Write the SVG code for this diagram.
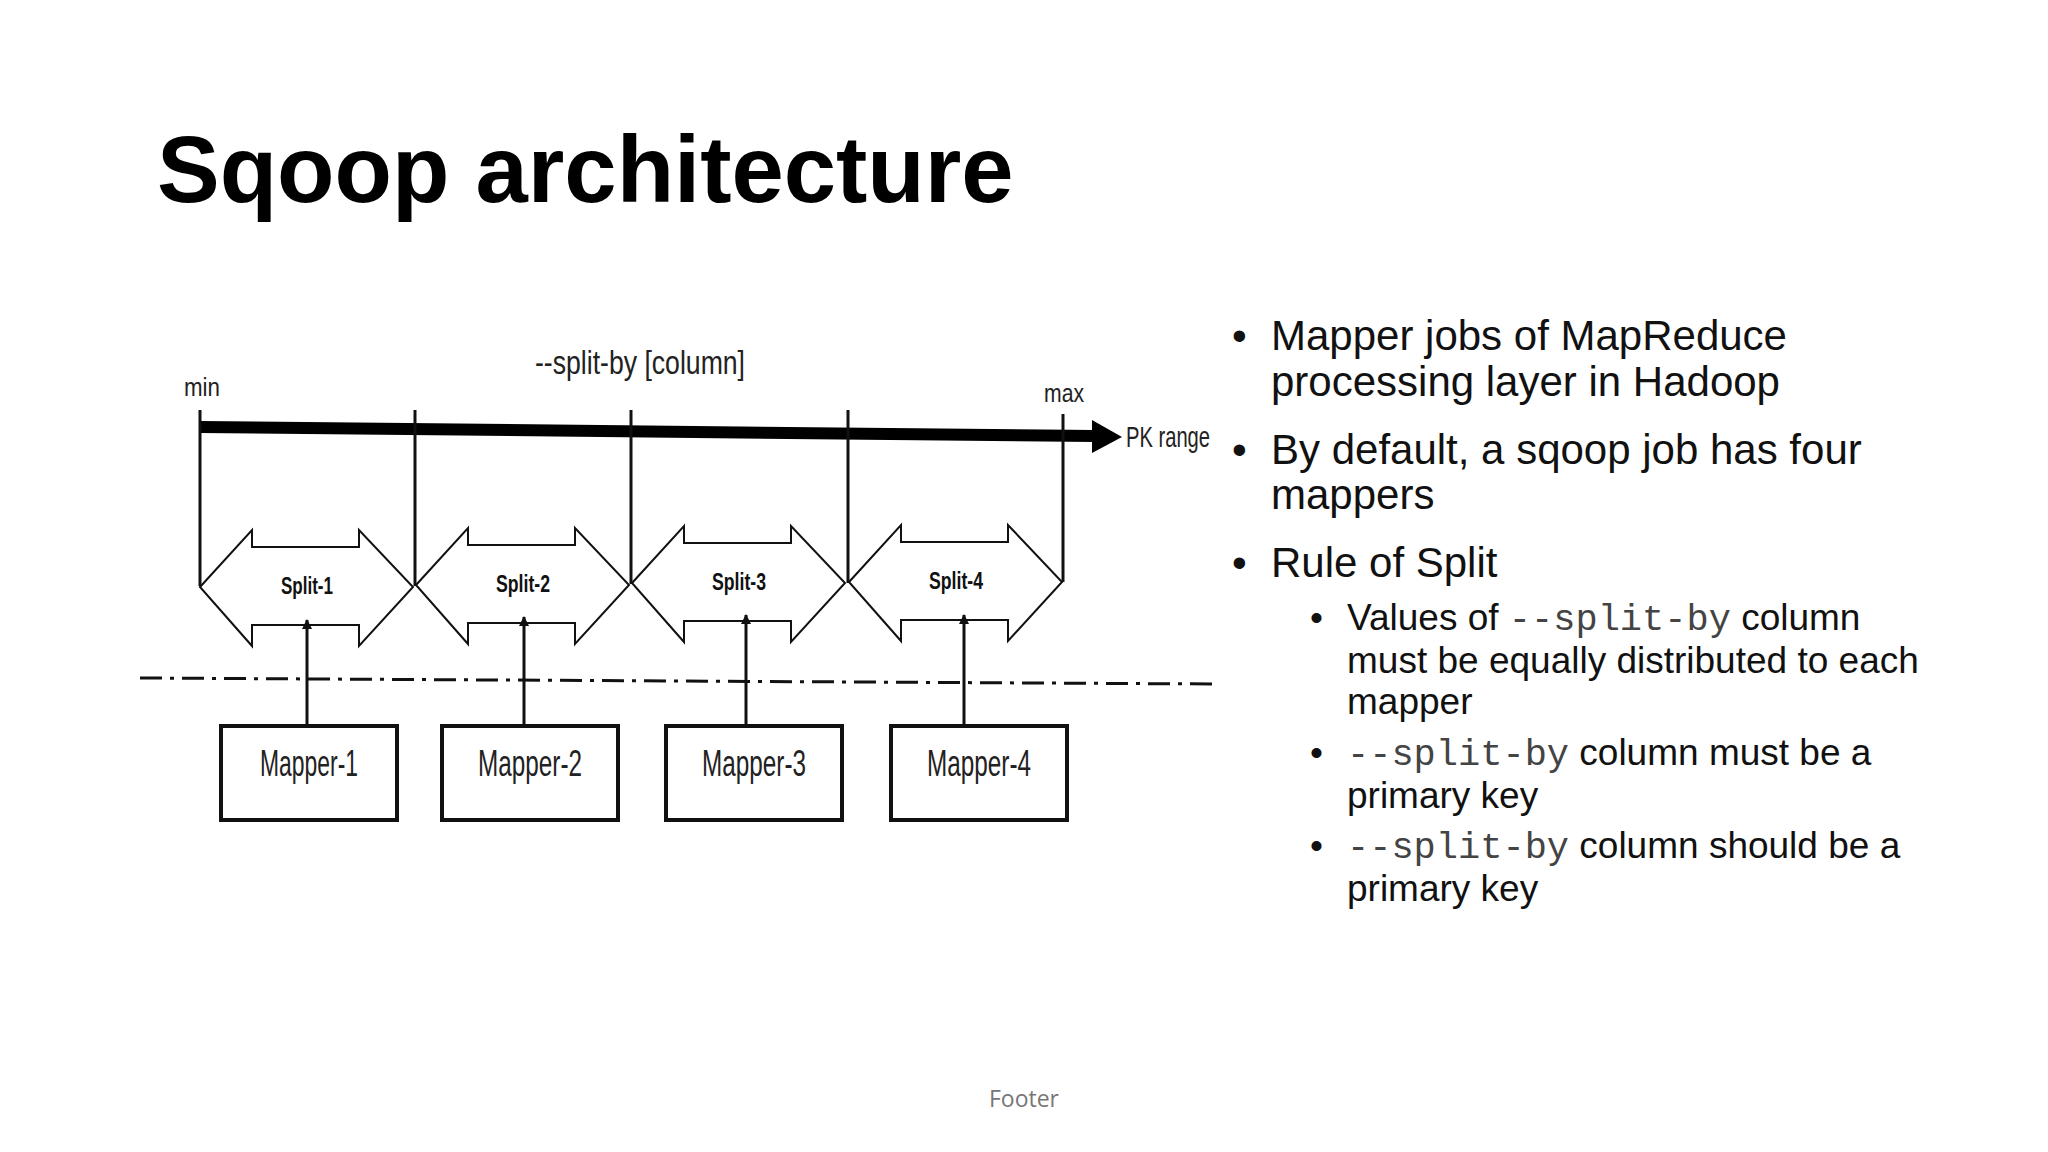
<svg xmlns="http://www.w3.org/2000/svg" width="2048" height="1152" viewBox="0 0 2048 1152">
<style>
.c{font-family:"Liberation Sans",Arial,sans-serif;fill:#111}
.n{font-family:"Liberation Sans",Arial,sans-serif;fill:#222}
.b{font-family:"Liberation Sans",Arial,sans-serif;font-size:42px;fill:#111}
.s{font-family:"Liberation Sans",Arial,sans-serif;font-size:37px;fill:#111}
.m{font-family:"Liberation Mono","Courier New",monospace;fill:#444}
.sp{fill:#fff;stroke:#111;stroke-width:2}
.bx{fill:#fff;stroke:#111;stroke-width:4}
.ln{stroke:#111;stroke-width:3;fill:none}
</style>
<defs>
<marker id="ah" markerWidth="10" markerHeight="10" refX="9" refY="5" orient="auto" markerUnits="userSpaceOnUse"><path d="M0,0 L10,5 L0,10 z" fill="#111"/></marker>
<path id="dbl" d="M0,0 L52,-57 L52,-40 L159,-40 L159,-57 L213,0 L159,59 L159,38 L52,38 L52,59 z"/>
</defs>
<rect width="2048" height="1152" fill="#fff"/>
<text x="157" y="202" font-family="Liberation Sans,Arial,sans-serif" font-weight="bold" font-size="94" fill="#000">Sqoop architecture</text>
<g id="axis">
<line x1="200" y1="427" x2="1095" y2="436" stroke="#000" stroke-width="12"/>
<path d="M1092,420 L1122,437 L1092,453 z" fill="#000"/>
<text x="1126" y="447" class="n" font-size="30" textLength="84" lengthAdjust="spacingAndGlyphs">PK range</text>
<text x="640" y="374" class="n" font-size="34" text-anchor="middle" textLength="210" lengthAdjust="spacingAndGlyphs">--split-by [column]</text>
<text x="184" y="396" class="n" font-size="25" textLength="36" lengthAdjust="spacingAndGlyphs">min</text>
<text x="1044" y="402" class="n" font-size="25" textLength="40" lengthAdjust="spacingAndGlyphs">max</text>
</g>
<g id="ticks" class="ln">
<line x1="200" y1="410" x2="200" y2="586"/>
<line x1="415" y1="410" x2="415" y2="586"/>
<line x1="631" y1="410" x2="631" y2="584"/>
<line x1="848" y1="410" x2="848" y2="583"/>
<line x1="1063" y1="414" x2="1063" y2="582"/>
</g>
<g id="split1"><use href="#dbl" class="sp" transform="translate(200,587)"/><text x="307" y="594" class="c" font-weight="bold" font-size="24" text-anchor="middle" textLength="52" lengthAdjust="spacingAndGlyphs">Split-1</text></g>
<g id="split2"><use href="#dbl" class="sp" transform="translate(416,585)"/><text x="523" y="592" class="c" font-weight="bold" font-size="24" text-anchor="middle" textLength="54" lengthAdjust="spacingAndGlyphs">Split-2</text></g>
<g id="split3"><use href="#dbl" class="sp" transform="translate(632,583)"/><text x="739" y="590" class="c" font-weight="bold" font-size="24" text-anchor="middle" textLength="54" lengthAdjust="spacingAndGlyphs">Split-3</text></g>
<g id="split4"><use href="#dbl" class="sp" transform="translate(849,582)"/><text x="956" y="589" class="c" font-weight="bold" font-size="24" text-anchor="middle" textLength="54" lengthAdjust="spacingAndGlyphs">Split-4</text></g>
<line x1="140" y1="678" x2="1215" y2="684" stroke="#111" stroke-width="3" stroke-dasharray="22,8,4,8"/>
<g id="mapper1"><rect x="221" y="726" width="176" height="94" class="bx"/><text x="309" y="776" class="n" font-size="36" text-anchor="middle" textLength="98" lengthAdjust="spacingAndGlyphs">Mapper-1</text></g>
<g id="mapper2"><rect x="442" y="726" width="176" height="94" class="bx"/><text x="530" y="776" class="n" font-size="36" text-anchor="middle" textLength="104" lengthAdjust="spacingAndGlyphs">Mapper-2</text></g>
<g id="mapper3"><rect x="666" y="726" width="176" height="94" class="bx"/><text x="754" y="776" class="n" font-size="36" text-anchor="middle" textLength="104" lengthAdjust="spacingAndGlyphs">Mapper-3</text></g>
<g id="mapper4"><rect x="891" y="726" width="176" height="94" class="bx"/><text x="979" y="776" class="n" font-size="36" text-anchor="middle" textLength="104" lengthAdjust="spacingAndGlyphs">Mapper-4</text></g>
<g id="connectors" class="ln" marker-end="url(#ah)">
<line x1="307" y1="724" x2="307" y2="620"/>
<line x1="524" y1="724" x2="524" y2="617"/>
<line x1="746" y1="724" x2="746" y2="615"/>
<line x1="964" y1="724" x2="964" y2="615"/>
</g>
<g id="bullets">
<text x="1232" y="350" class="b">•</text><text x="1271" y="350" class="b">Mapper jobs of MapReduce</text>
<text x="1271" y="396" class="b">processing layer in Hadoop</text>
<text x="1232" y="464" class="b">•</text><text x="1271" y="464" class="b">By default, a sqoop job has four</text>
<text x="1271" y="509" class="b">mappers</text>
<text x="1232" y="577" class="b">•</text><text x="1271" y="577" class="b">Rule of Split</text>
<text x="1310" y="630" class="s">•</text><text x="1347" y="630" class="s">Values of <tspan class="m">--split-by</tspan> column</text>
<text x="1347" y="673" class="s">must be equally distributed to each</text>
<text x="1347" y="714" class="s">mapper</text>
<text x="1310" y="765" class="s">•</text><text x="1347" y="765" class="s"><tspan class="m">--split-by</tspan> column must be a</text>
<text x="1347" y="808" class="s">primary key</text>
<text x="1310" y="858" class="s">•</text><text x="1347" y="858" class="s"><tspan class="m">--split-by</tspan> column should be a</text>
<text x="1347" y="901" class="s">primary key</text>
</g>
<text x="1024" y="1107" font-family="Open Sans,Liberation Sans,sans-serif" font-size="23" fill="#777" text-anchor="middle">Footer</text>
</svg>
